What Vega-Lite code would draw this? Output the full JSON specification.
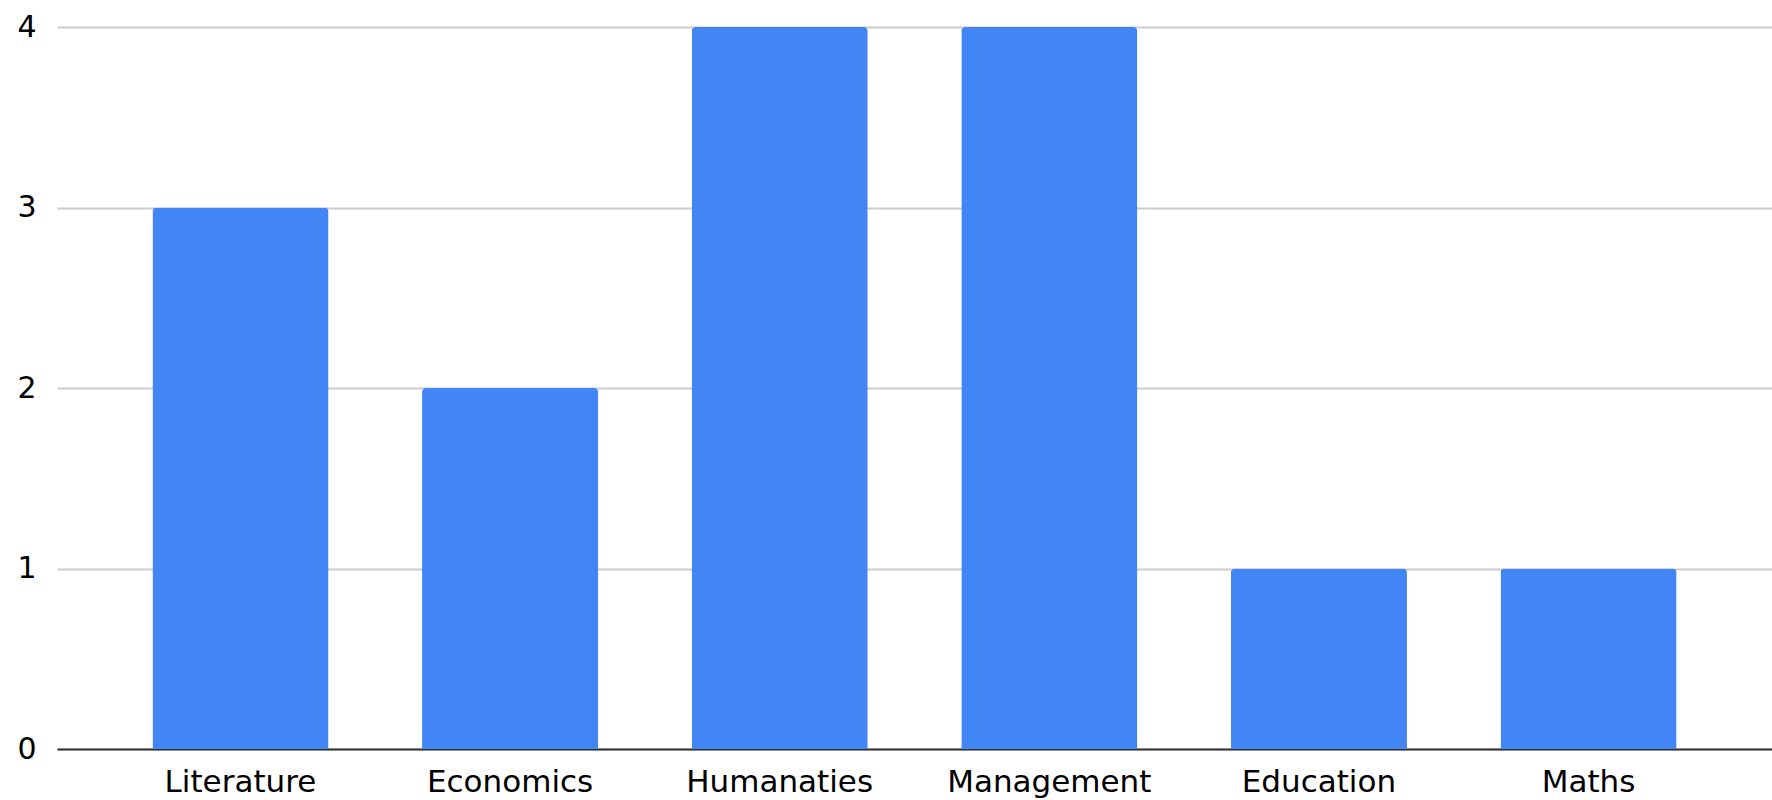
{
  "$schema": "https://vega.github.io/schema/vega-lite/v6.json",
  "width": 1715,
  "height": 722,
  "autosize": {"type": "none"},
  "padding": {"left": 57, "top": 27, "right": 0, "bottom": 51},
  "background": "white",
  "config": {
    "view": {"stroke": null},
    "font": "DejaVu Sans"
  },
  "data": {
    "values": [
      {"subject": "Literature", "count": 3},
      {"subject": "Economics", "count": 2},
      {"subject": "Humanaties", "count": 4},
      {"subject": "Management", "count": 4},
      {"subject": "Education", "count": 1},
      {"subject": "Maths", "count": 1}
    ]
  },
  "mark": {
    "type": "bar",
    "color": "#4285F4",
    "cornerRadiusTopLeft": 4,
    "cornerRadiusTopRight": 4
  },
  "encoding": {
    "x": {
      "field": "subject",
      "type": "nominal",
      "sort": null,
      "scale": {"paddingInner": 0.347, "paddingOuter": 0.354},
      "axis": {
        "title": null,
        "labelAngle": 0,
        "labelFont": "DejaVu Sans",
        "labelFontSize": 31,
        "labelColor": "#000000",
        "labelPadding": 18,
        "labelLimit": 500,
        "labelOverlap": false,
        "ticks": false,
        "tickSize": 0,
        "domain": true,
        "domainColor": "#333333",
        "domainWidth": 2,
        "grid": false
      }
    },
    "y": {
      "field": "count",
      "type": "quantitative",
      "scale": {"domain": [0, 4], "nice": false},
      "axis": {
        "title": null,
        "values": [0, 1, 2, 3, 4],
        "format": "d",
        "labelFont": "DejaVu Sans",
        "labelFontSize": 30,
        "labelColor": "#000000",
        "labelPadding": 21,
        "ticks": false,
        "tickSize": 0,
        "domain": false,
        "grid": true,
        "gridColor": "#cccccc",
        "gridWidth": 2
      }
    }
  }
}
